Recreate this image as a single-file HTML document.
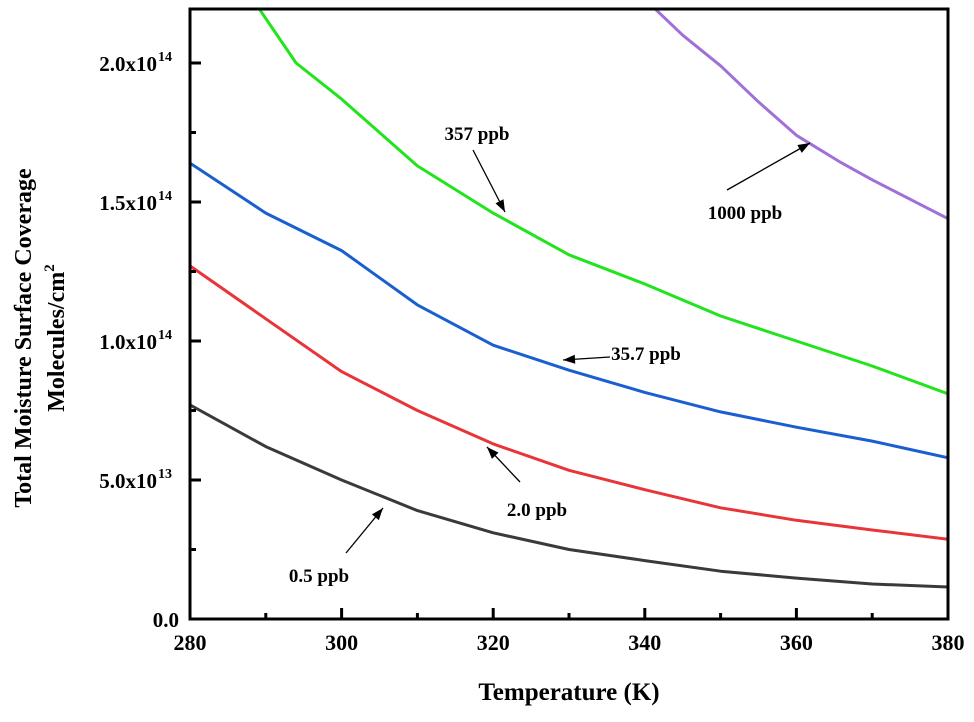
<!DOCTYPE html>
<html><head><meta charset="utf-8"><style>
body{margin:0;background:#fff;}
svg{display:block;font-family:"Liberation Serif",serif;font-weight:bold;}
</style></head><body>
<svg id="chart" width="974" height="722" viewBox="0 0 974 722" xmlns="http://www.w3.org/2000/svg">
<defs><clipPath id="plotclip"><rect x="190" y="9" width="758" height="611"/></clipPath></defs>
<g id="series" clip-path="url(#plotclip)"></g>
<g id="axes"></g>
<g id="annotations"></g>
</svg>
<script>
const temps = [280,290,300,310,320,330,340,350,360,370,380];
const s05 = [7.7,6.2,5.0,3.9,3.1,2.5,2.1,1.72,1.47,1.26,1.15];
const s20 = [12.7,10.8,8.9,7.5,6.3,5.35,4.65,4.0,3.55,3.2,2.87];
const s357 = [16.4,14.6,13.25,11.3,9.85,8.95,8.15,7.45,6.9,6.4,5.8];
const temps357 = [288.5,294,300,310,320,330,340,350,360,370,380];
const s3570 = [22.2,20.0,18.7,16.3,14.6,13.1,12.05,10.9,10.0,9.1,8.1];
const temps1000 = [340,345,350,355,360,366,370,380];
const s1000 = [22.3,21.0,19.9,18.6,17.4,16.4,15.8,14.4];
const xTicks = [280,300,320,340,360,380];
const xMinor = [290,310,330,350,370];
const yTicks = [0,5,10,15,20];
const yTickLabels = ["0.0","5.0x10","1.0x10","1.5x10","2.0x10"];
const yTickExp = ["","13","14","14","14"];

const NS="http://www.w3.org/2000/svg";
const X0=190,X1=948,Y0=619,PPU=139/5;
function xs(t){return X0+(t-280)*(X1-X0)/100;}
function ys(v){return Y0-v*PPU;}
function mk(tag,attrs,parent){const e=document.createElementNS(NS,tag);for(const k in attrs)e.setAttribute(k,attrs[k]);parent.appendChild(e);return e;}
const gS=document.getElementById('series'),gA=document.getElementById('axes'),gN=document.getElementById('annotations');

function line(xsArr,vals,color,name){
  const d=vals.map((v,i)=>(i?'L':'M')+xs(xsArr[i]).toFixed(1)+','+ys(v).toFixed(1)).join(' ');
  const p=mk('path',{d:d,fill:'none',stroke:color,'stroke-width':3,'stroke-linejoin':'round'},gS);
  
  
}
line(temps,s05,'#3a3a3a','series-0-5-ppb');
line(temps,s20,'#e8353a','series-2-0-ppb');
line(temps,s357,'#1a5fd0','series-35-7-ppb');
line(temps357,s3570,'#22e41c','series-357-ppb');
line(temps1000,s1000,'#a070d8','series-1000-ppb');

const fr=mk('rect',{x:X0,y:9,width:X1-X0,height:Y0-9,fill:'none',stroke:'#000','stroke-width':3},gA);


xTicks.forEach(t=>{
  mk('line',{x1:xs(t),x2:xs(t),y1:Y0,y2:Y0-11,stroke:'#000','stroke-width':3},gA);
  const tx=mk('text',{x:xs(t),y:Y0+31,'text-anchor':'middle','font-size':22},gA);
  tx.textContent=t;
  
  
});
xMinor.forEach(t=>mk('line',{x1:xs(t),x2:xs(t),y1:Y0,y2:Y0-6,stroke:'#000','stroke-width':3},gA));
yTicks.forEach((v,i)=>{
  mk('line',{x1:X0,x2:X0+11,y1:ys(v),y2:ys(v),stroke:'#000','stroke-width':3},gA);
  if(i<yTicks.length-1) mk('line',{x1:X0,x2:X0+6,y1:ys(v+2.5),y2:ys(v+2.5),stroke:'#000','stroke-width':3},gA);
  const tx=mk('text',{x:i?157:179,y:ys(v)+8,'text-anchor':'end','font-size':21},gA);
  tx.textContent=yTickLabels[i];
  
  
  if(yTickExp[i]){const e=mk('text',{x:158,y:ys(v)-2,'font-size':14},gA);e.textContent=yTickExp[i];}
});
const xt=mk('text',{x:569,y:700,'text-anchor':'middle','font-size':25},gA);
xt.textContent='Temperature (K)';


const yt=mk('text',{transform:'translate(31,338) rotate(-90)','text-anchor':'middle','font-size':24},gA);
yt.textContent='Total Moisture Surface Coverage';


const yt2=mk('text',{transform:'translate(64,338) rotate(-90)','text-anchor':'middle','font-size':24},gA);
yt2.innerHTML='Molecules/cm<tspan dy="-10" font-size="15">2</tspan>';



function ann(txt,tx,ty,x1,y1,x2,y2,name){
  const t=mk('text',{x:tx,y:ty,'text-anchor':'middle','font-size':19},gN);
  t.textContent=txt;
  
  
  mk('line',{x1:x1,y1:y1,x2:x2,y2:y2,stroke:'#000','stroke-width':1.3},gN);
  const a=Math.atan2(y2-y1,x2-x1),L=12,W=4.5;
  const bx=x2-L*Math.cos(a),by=y2-L*Math.sin(a);
  mk('polygon',{points:`${x2},${y2} ${bx+W*Math.sin(a)},${by-W*Math.cos(a)} ${bx-W*Math.sin(a)},${by+W*Math.cos(a)}`,fill:'#000'},gN);
}
ann('357 ppb',477,140,473,150,505,212,'label-357-ppb');
ann('1000 ppb',745,219,727,190,810,143,'label-1000-ppb');
ann('35.7 ppb',646,360,610,357,563,360,'label-35-7-ppb');
ann('2.0 ppb',537,516,520,482,487,447,'label-2-0-ppb');
ann('0.5 ppb',319,582,346,553,383,508,'label-0-5-ppb');
</script>
</body></html>
